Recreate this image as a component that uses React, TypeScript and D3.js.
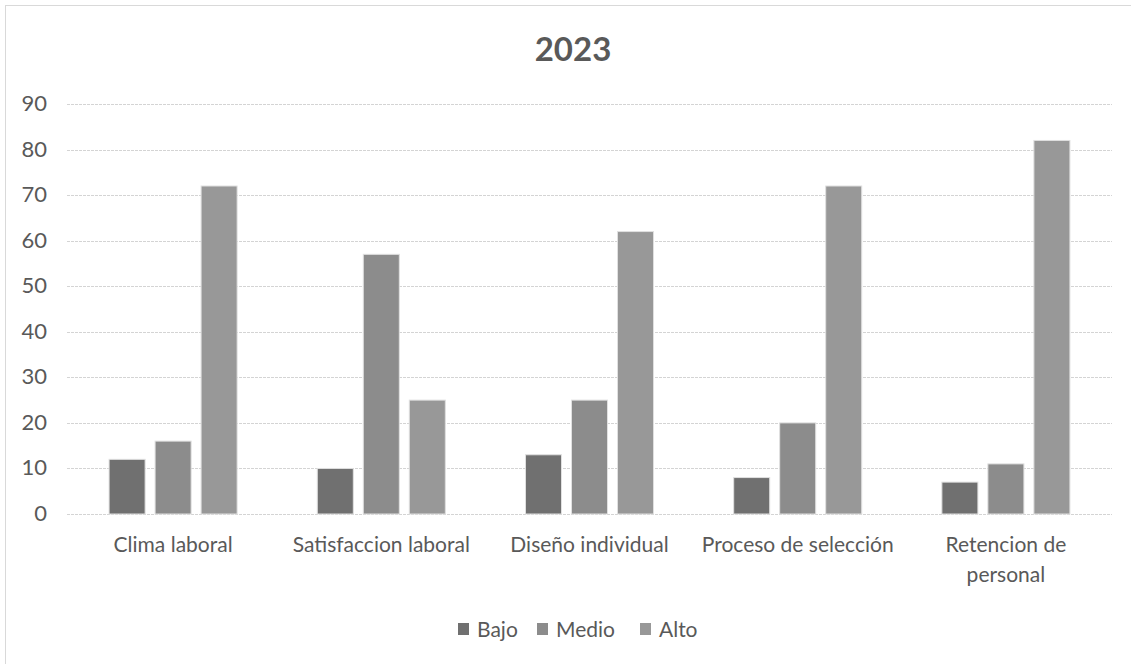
import React from "react";
import * as d3 from "d3";

const categories = ["Clima laboral", "Satisfaccion laboral", "Diseño individual", "Proceso de selección", "Retencion de personal"];
const seriesNames = ["Bajo", "Medio", "Alto"];
const bajo = [12, 10, 13, 8, 7];
const medio = [16, 57, 25, 20, 11];
const alto = [72, 25, 62, 72, 82];
const yTicks = [0, 10, 20, 30, 40, 50, 60, 70, 80, 90];
const colors = ["#707070", "#8c8c8c", "#989898"];

const W = 1131;
const H = 664;
const font = "Lato, 'Open Sans', sans-serif";
const textColor = "#595959";

function wrap(label: string): string[] {
  if (label.length <= 20) return [label];
  const words = label.split(" ");
  const lines: string[] = [];
  let cur = "";
  for (const w of words) {
    const next = cur ? cur + " " + w : w;
    if (next.length > 13 && cur) {
      lines.push(cur);
      cur = w;
    } else cur = next;
  }
  if (cur) lines.push(cur);
  return lines;
}

export default function App() {
  const gridLeft = 67, gridRight = 1112, top = 104, bottom = 514;
  const bandLeft = 69, bandRight = 1110;
  const p = 0.385;
  const x0 = d3.scaleBand<string>().domain(categories).range([bandLeft, bandRight]).paddingInner(p).paddingOuter(p / 2);
  const x1 = d3.scaleBand<string>().domain(seriesNames).range([0, x0.bandwidth()]).paddingInner(0.217);
  const y = d3.scaleLinear().domain([0, 90]).range([bottom, top]);
  const values = [bajo, medio, alto];
  const band = d3.scaleBand<string>().domain(categories).range([bandLeft, bandRight]);

  const legendItems = [
    { name: "Bajo", x: 458 },
    { name: "Medio", x: 537 },
    { name: "Alto", x: 640 },
  ];

  return (
    <svg width={W} height={H} style={{ position: "absolute", left: 0, top: 0, background: "#fff" }}>
      <rect x={5.5} y={5.5} width={W + 10} height={H + 10} fill="#fff" stroke="#d9d9d9" strokeWidth={1} />
      <text x={573} y={61} textAnchor="middle" fontFamily={font} fontWeight="bold" fontSize={33} fill={textColor}>2023</text>
      {yTicks.map((t) => (
        <g key={t}>
          <line x1={gridLeft} x2={gridRight} y1={Math.round(y(t)) + 0.5} y2={Math.round(y(t)) + 0.5} stroke="#d4d4d4" strokeWidth={1} strokeDasharray="3 1" />
          <text x={47} y={y(t) + 7} textAnchor="end" fontFamily={font} fontSize={22} fill={textColor}>{t}</text>
        </g>
      ))}
      {categories.map((c, ci) => (
        <g key={c} transform={`translate(${x0(c)},0)`}>
          {seriesNames.map((s, si) => (
            <rect
              key={s}
              x={x1(s)}
              y={y(values[si][ci])}
              width={x1.bandwidth()}
              height={bottom - y(values[si][ci])}
              fill={colors[si]}
              stroke="#e0e0e0"
              strokeWidth={1}
            />
          ))}
        </g>
      ))}
      {categories.map((c) => {
        const lines = wrap(c);
        const cx = (band(c) as number) + band.bandwidth() / 2;
        return (
          <text key={c} x={cx} textAnchor="middle" fontFamily={font} fontSize={21} fill={textColor}>
            {lines.map((l, i) => (
              <tspan key={i} x={cx} y={552 + i * 30}>{l}</tspan>
            ))}
          </text>
        );
      })}
      {legendItems.map((it, i) => (
        <g key={it.name}>
          <rect x={it.x} y={623} width={11} height={12} fill={colors[i]} />
          <text x={it.x + 19} y={637} fontFamily={font} fontSize={21} fill={textColor}>{it.name}</text>
        </g>
      ))}
    </svg>
  );
}
